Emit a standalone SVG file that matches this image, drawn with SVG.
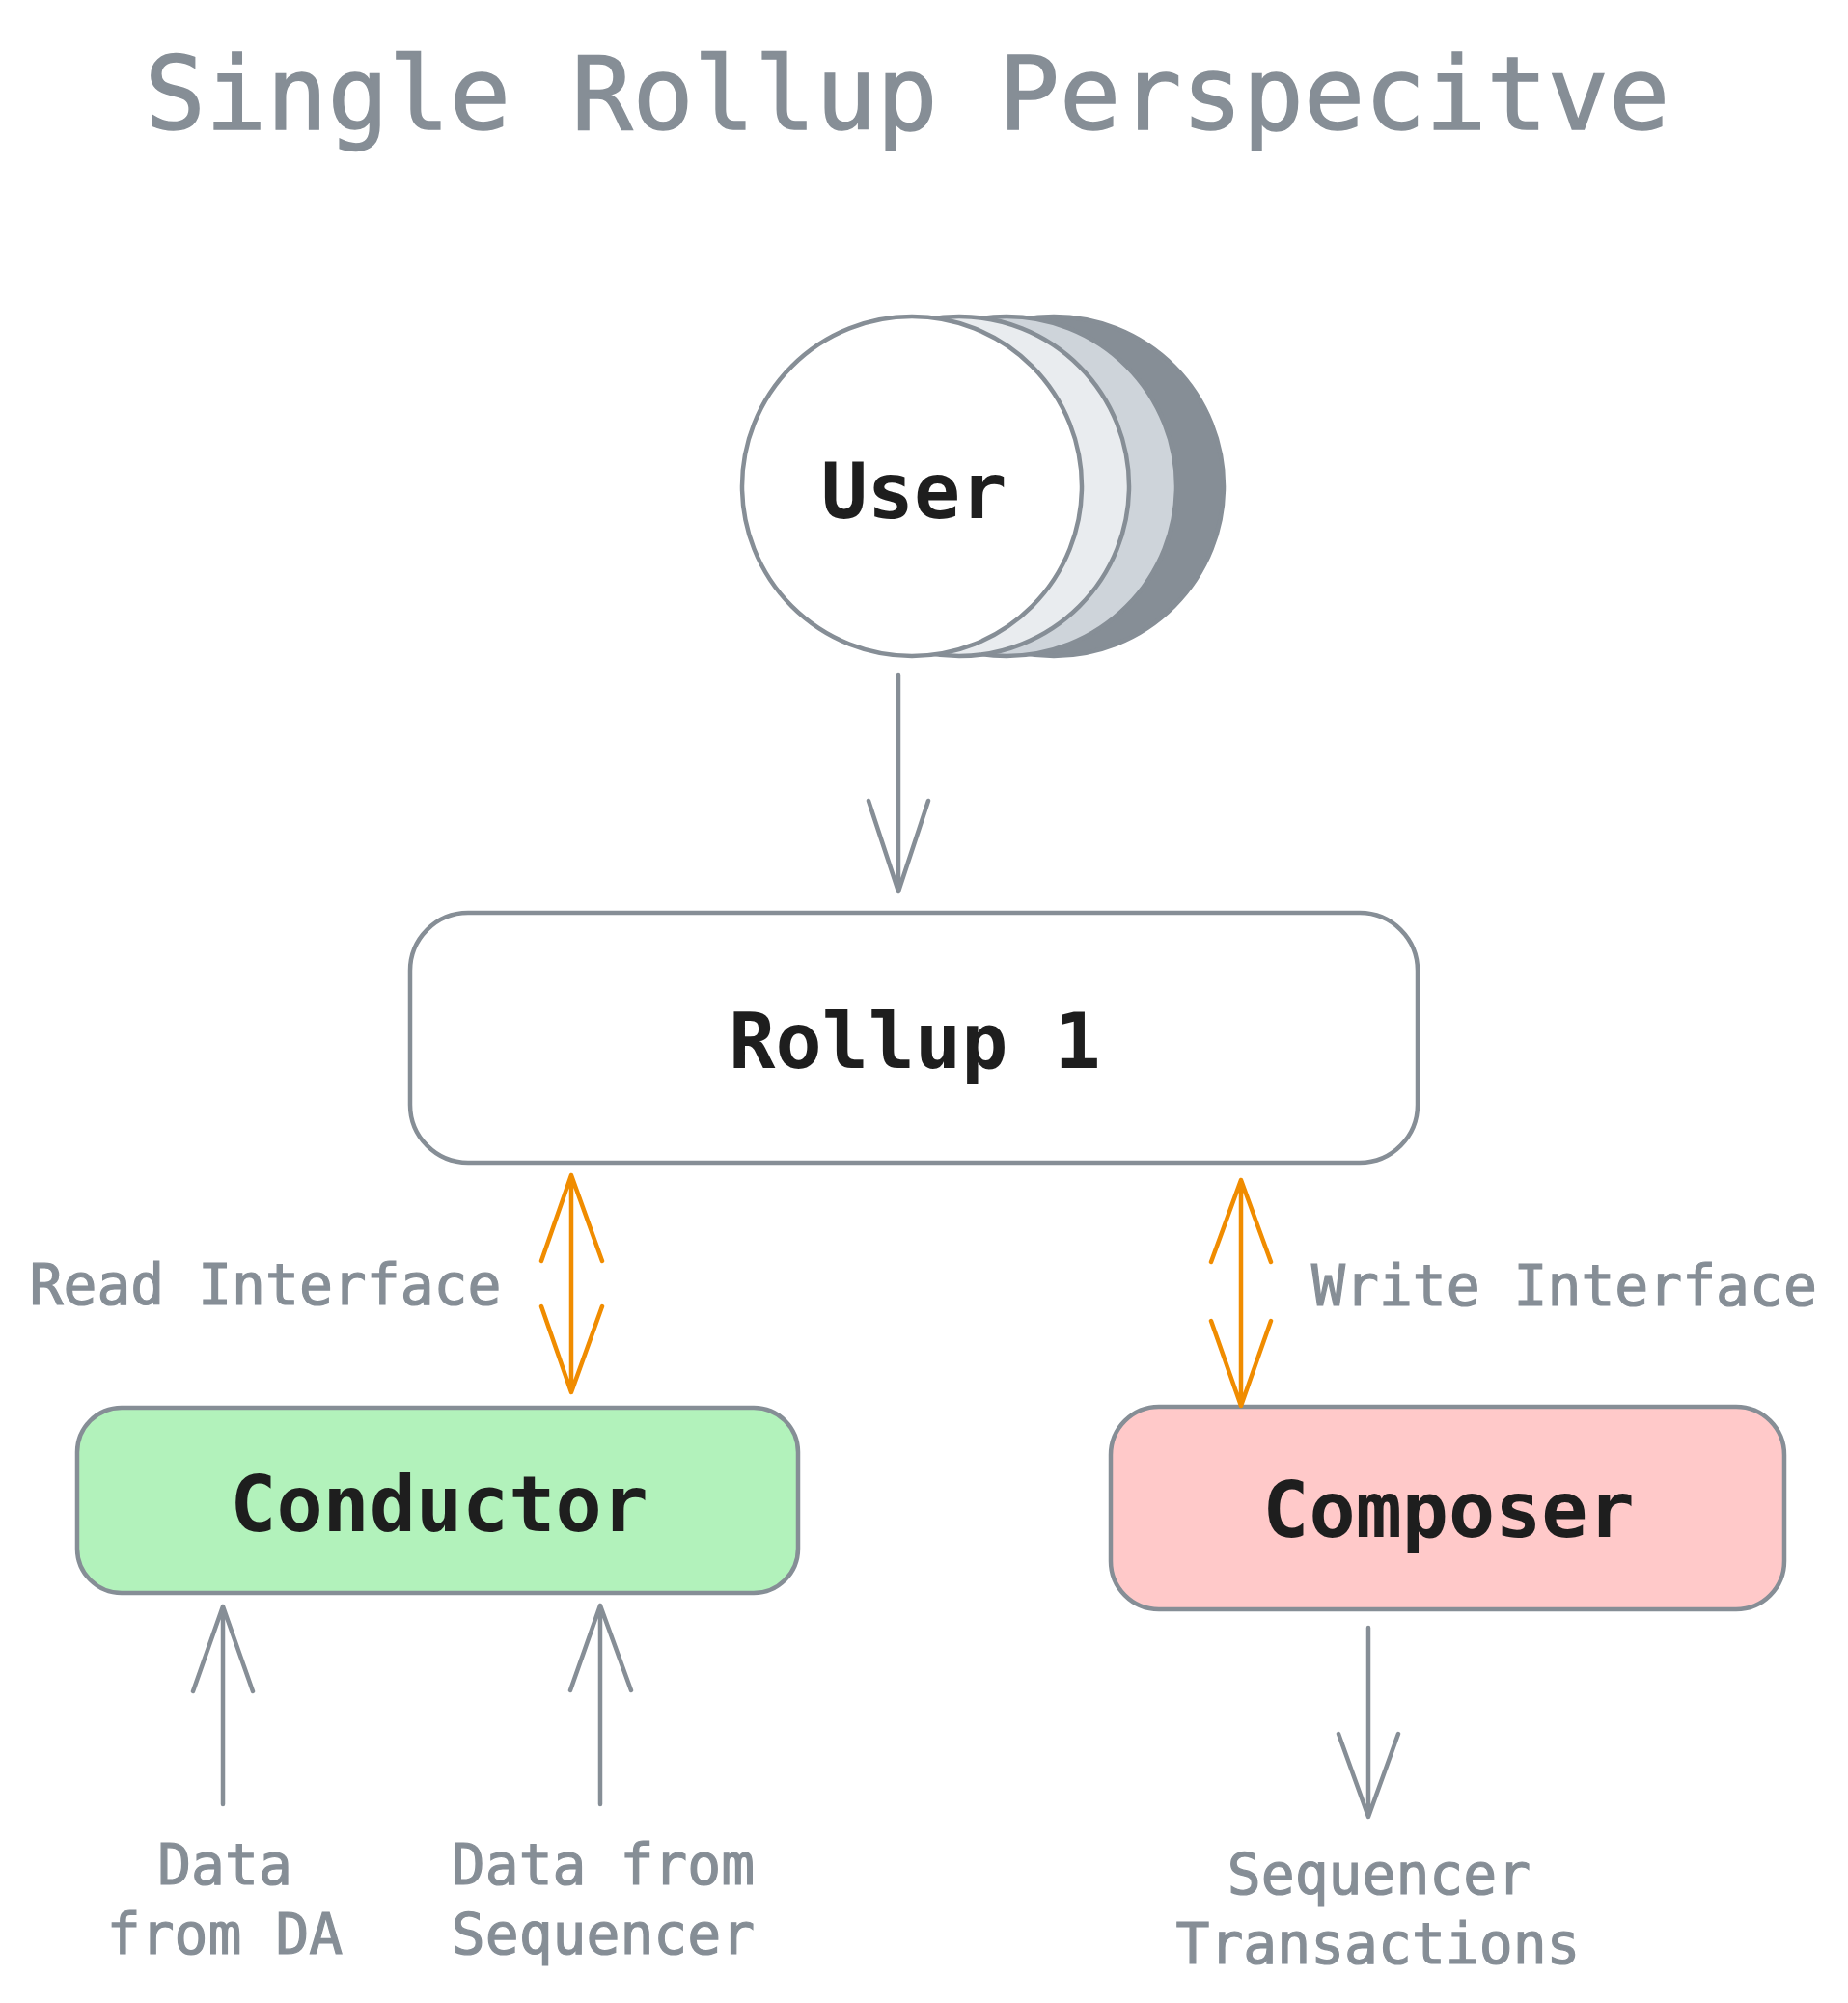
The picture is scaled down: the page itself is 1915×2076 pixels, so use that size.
<svg xmlns="http://www.w3.org/2000/svg" width="1915" height="2076" viewBox="0 0 1915 2076">
<style>
.box{stroke:#868e96;stroke-width:4.5}
.conn{fill:none;stroke-width:4.5;stroke-linecap:round;stroke-linejoin:round}
.gray{stroke:#868e96}
.orange{stroke:#f08c00}
.dark{font-family:"DejaVu Sans Mono","Liberation Mono",monospace;font-weight:bold;font-size:80px;fill:#1e1e1e;text-anchor:middle}
.lbl{font-family:"DejaVu Sans Mono","Liberation Mono",monospace;font-size:58px;fill:#868e96;text-anchor:middle;stroke:#868e96;stroke-width:1.2}
.title{font-family:"DejaVu Sans Mono","Liberation Mono",monospace;font-size:105px;fill:#868e96;text-anchor:middle;stroke:#868e96;stroke-width:1.5}
</style>
<rect width="1915" height="2076" fill="#ffffff"/>
<text class="title" x="940" y="134">Single Rollup Perspecitve</text>

<g id="user">
<circle cx="1092" cy="504" r="176" fill="#868e96" class="box"/>
<circle cx="1043" cy="504" r="176" fill="#ced4da" class="box"/>
<circle cx="994" cy="504" r="176" fill="#e9ecef" class="box"/>
<circle cx="945" cy="504" r="176" fill="#ffffff" class="box"/>
<text class="dark" x="947" y="537">User</text>
</g>

<g id="rollup1">
<rect x="425" y="946" width="1044" height="259" rx="60" fill="#ffffff" class="box"/>
<text class="dark" x="948" y="1107">Rollup 1</text>
</g>

<g id="conductor">
<rect x="80" y="1459" width="747" height="192" rx="46" fill="#b2f2bb" class="box"/>
<text class="dark" x="455" y="1587">Conductor</text>
</g>

<g id="composer">
<rect x="1151" y="1458" width="698" height="210" rx="50" fill="#ffc9c9" class="box"/>
<text class="dark" x="1501" y="1593">Composer</text>
</g>

<g id="connectors">
<path class="conn gray" d="M931 700 L931 924 M900 830 L931 924 L962 830"/>
<path class="conn orange" d="M592 1218 L592 1443 M561 1307 L592 1218 L624 1307 M561 1354 L592 1443 L624 1354"/>
<path class="conn orange" d="M1286 1223 L1286 1457 M1255 1308 L1286 1223 L1317 1308 M1255 1369 L1286 1457 L1317 1369"/>
<path class="conn gray" d="M231 1870 L231 1665 M200 1753 L231 1665 L262 1753"/>
<path class="conn gray" d="M622 1870 L622 1664 M591 1752 L622 1664 L654 1752"/>
<path class="conn gray" d="M1418 1687 L1418 1883 M1387 1797 L1418 1883 L1449 1797"/>
</g>

<g id="labels">
<text class="lbl" x="275" y="1352">Read Interface</text>
<text class="lbl" x="1621" y="1353">Write Interface</text>
<text class="lbl" x="233" y="1953">Data</text>
<text class="lbl" x="233" y="2025">from DA</text>
<text class="lbl" x="625" y="1953">Data from</text>
<text class="lbl" x="625" y="2025">Sequencer</text>
<text class="lbl" x="1429" y="1963">Sequencer</text>
<text class="lbl" x="1428" y="2035">Transactions</text>
</g>
</svg>
